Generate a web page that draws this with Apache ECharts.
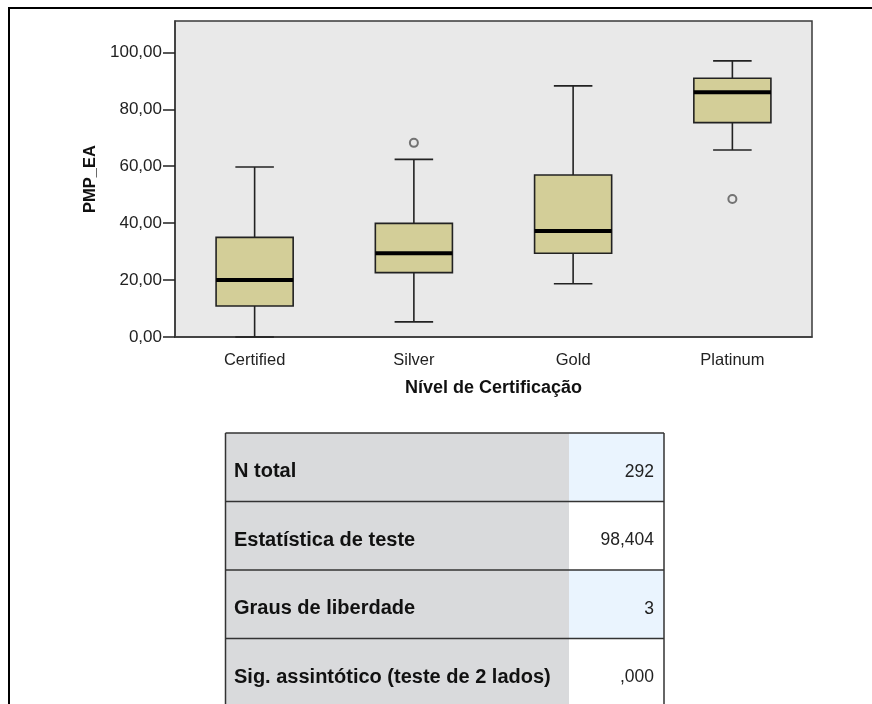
<!DOCTYPE html>
<html>
<head>
<meta charset="utf-8">
<script src="https://cdn.jsdelivr.net/npm/echarts@6/dist/echarts.min.js"></script>
<style>
html,body{margin:0;padding:0;background:#fff;}
#chart{width:872px;height:704px;}
</style>
</head>
<body>
<div id="chart"></div>
<script>
// ---- data ----
const categories = ['Certified', 'Silver', 'Gold', 'Platinum'];
// [min whisker, Q1, median, Q3, max whisker]
const boxCertified = [0.0, 10.9, 20.0, 35.0, 59.7];
const boxSilver    = [5.3, 22.6, 29.4, 39.9, 62.4];
const boxGold      = [18.7, 29.4, 37.2, 56.9, 88.2];
const boxPlatinum  = [65.7, 75.3, 86.0, 90.9, 97.0];
const outlierCats   = ['Silver', 'Platinum'];
const outlierValues = [68.2, 48.5];
const yTicks = [0, 20, 40, 60, 80, 100];
const tableLabels = ['N total', 'Estatística de teste', 'Graus de liberdade', 'Sig. assintótico (teste de 2 lados)'];
const tableValues = ['292', '98,404', '3', ',000'];

const boxes = [boxCertified, boxSilver, boxGold, boxPlatinum];
const boxData = boxes.map((b, i) => [i].concat(b));
const outlierData = outlierCats.map((c, i) => [categories.indexOf(c), outlierValues[i]]);

const FONT = 'Liberation Sans, Arial, sans-serif';

function renderBox(params, api) {
  const x = api.value(0);
  const lo = api.coord([x, api.value(1)]);
  const q1 = api.coord([x, api.value(2)]);
  const med = api.coord([x, api.value(3)]);
  const q3 = api.coord([x, api.value(4)]);
  const hi = api.coord([x, api.value(5)]);
  const band = api.size([1, 0])[0];
  const bw = band * 0.484;
  const cw = bw / 2;
  const cx = lo[0];
  const lineStyle = { stroke: '#222', lineWidth: 1.6 };
  return {
    type: 'group',
    children: [
      { type: 'line', shape: { x1: cx, y1: lo[1], x2: cx, y2: q1[1] }, style: lineStyle },
      { type: 'line', shape: { x1: cx, y1: q3[1], x2: cx, y2: hi[1] }, style: lineStyle },
      { type: 'line', shape: { x1: cx - cw / 2, y1: lo[1], x2: cx + cw / 2, y2: lo[1] }, style: lineStyle },
      { type: 'line', shape: { x1: cx - cw / 2, y1: hi[1], x2: cx + cw / 2, y2: hi[1] }, style: lineStyle },
      { type: 'rect', shape: { x: cx - bw / 2, y: q3[1], width: bw, height: q1[1] - q3[1] },
        style: { fill: '#d3ce98', stroke: '#222', lineWidth: 1.6 } },
      { type: 'line', shape: { x1: cx - bw / 2, y1: med[1], x2: cx + bw / 2, y2: med[1] },
        style: { stroke: '#000', lineWidth: 4 } }
    ]
  };
}

// table graphics
const tX = 225.5, tMid = 569, tR = 664, tTop = 433, rowH = 68.5;
const tableEls = [];
tableLabels.forEach((lab, i) => {
  const y = tTop + i * rowH;
  tableEls.push({ type: 'rect', shape: { x: tX, y: y, width: tMid - tX, height: rowH },
    style: { fill: '#d9dadc' } });
  tableEls.push({ type: 'rect', shape: { x: tMid, y: y, width: tR - tMid, height: rowH },
    style: { fill: (i % 2 === 0) ? '#eaf4fe' : '#ffffff' } });
  tableEls.push({ type: 'line', shape: { x1: tX, y1: y, x2: tR, y2: y },
    style: { stroke: '#333', lineWidth: 1.5 } });
  tableEls.push({ type: 'text', x: 234, y: y + rowH / 2 + 4.5,
    style: { text: lab, font: 'bold 20px ' + FONT, fill: '#111', verticalAlign: 'middle', align: 'left' } });
  tableEls.push({ type: 'text', x: 654, y: y + rowH / 2 + 4.5,
    style: { text: tableValues[i], font: '17.5px ' + FONT, fill: '#222', verticalAlign: 'middle', align: 'right' } });
});
tableEls.push({ type: 'line', shape: { x1: tX, y1: tTop, x2: tX, y2: tTop + rowH * 4 },
  style: { stroke: '#333', lineWidth: 1.5 } });
tableEls.push({ type: 'line', shape: { x1: tR, y1: tTop, x2: tR, y2: tTop + rowH * 4 },
  style: { stroke: '#333', lineWidth: 1.5 } });

const chart = echarts.init(document.getElementById('chart'), null, { renderer: 'canvas' });
chart.setOption({
  backgroundColor: '#ffffff',
  animation: false,
  grid: { left: 175, top: 21, width: 637, height: 316, show: true,
    backgroundColor: '#e9e9e9', borderColor: '#3a3a3a', borderWidth: 1.5 },
  xAxis: {
    type: 'category', data: categories, boundaryGap: true,
    axisLine: { lineStyle: { color: '#3a3a3a', width: 1.5 } },
    axisTick: { alignWithLabel: true, length: 11, lineStyle: { color: '#222', width: 1.5 } },
    axisLabel: { margin: 15, fontSize: 16.5, color: '#222', fontFamily: FONT },
    name: 'Nível de Certificação', nameLocation: 'middle', nameGap: 42,
    nameTextStyle: { fontSize: 18, fontWeight: 'bold', color: '#111', fontFamily: FONT }
  },
  yAxis: {
    type: 'value', min: 0, max: 111, interval: 20,
    splitLine: { show: false },
    axisLine: { show: true, lineStyle: { color: '#3a3a3a', width: 1.5 } },
    axisTick: { show: true, length: 12, customValues: yTicks, lineStyle: { color: '#222', width: 1.5 } },
    axisLabel: { margin: 13, fontSize: 17, color: '#222', fontFamily: FONT, customValues: yTicks,
      formatter: v => v.toFixed(2).replace('.', ',') },
    name: 'PMP_EA', nameLocation: 'middle', nameGap: 74, nameRotate: 90,
    nameTextStyle: { fontSize: 16.5, fontWeight: 'bold', color: '#111', fontFamily: FONT }
  },
  graphic: [
    { type: 'rect', silent: true, z: 100, shape: { x: 9, y: 8, width: 900, height: 800 },
      style: { fill: 'none', stroke: '#000', lineWidth: 2 } },
    { type: 'group', children: tableEls }
  ],
  series: [
    { type: 'custom', renderItem: renderBox, data: boxData, clip: false, z: 3 },
    { type: 'scatter', data: outlierData, symbol: 'circle', symbolSize: 8, z: 4,
      itemStyle: { color: 'rgba(0,0,0,0)', borderColor: '#555', borderWidth: 2 } }
  ]
});
</script>
</body>
</html>
